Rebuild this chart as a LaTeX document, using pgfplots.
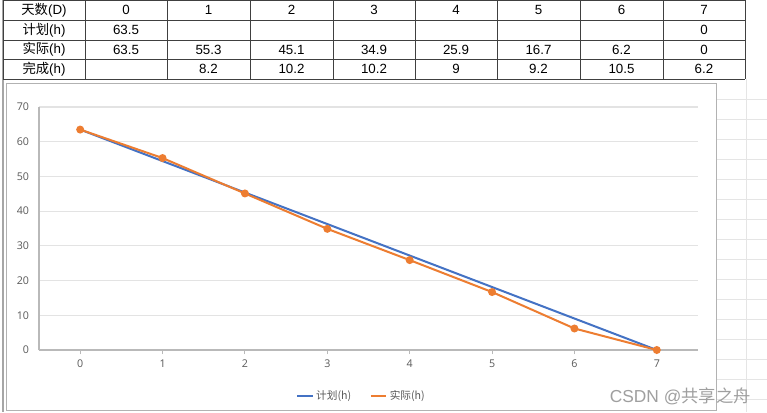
\documentclass[border=0pt]{standalone}
\usepackage{pgfplots}
\pgfplotsset{compat=1.18}
\usepackage{fontspec}
\setmainfont{Liberation Sans}
\newfontfamily\cjk{Noto Sans CJK SC}
\newfontfamily\uifont{Open Sans}
\definecolor{xlblue}{HTML}{4472C4}
\definecolor{xlorange}{HTML}{ED7D31}
\definecolor{tickgray}{HTML}{595959}
\begin{document}
\begin{tikzpicture}[x=0.75pt,y=-0.75pt]
\useasboundingbox (0,0) rectangle (767,412);
% spreadsheet background grid
\foreach \yy in {99,119,...,399} \draw[gray!20, line width=0.6pt] (716,\yy) -- (767,\yy);
\draw[gray!20, line width=0.6pt] (746,79) -- (746,412);
\draw[gray!70, line width=1pt] (3,0) -- (3,412);
% table
\foreach \yy in {0.7,20,40,59,79} \draw[black!75, line width=0.7pt] (3,\yy) -- (745,\yy);
\foreach \xx in {3,85,167,250,333,415,497,580,663,745} \draw[black!75, line width=0.7pt] (\xx,0) -- (\xx,79);
\begin{scope}[every node/.style={font=\fontsize{10}{11}\selectfont, inner sep=0pt}]
\node at (44,10) {{\cjk 天数}(D)};
\node at (44,30) {{\cjk 计划}(h)};
\node at (44,49.5) {{\cjk 实际}(h)};
\node at (44,69) {{\cjk 完成}(h)};
\foreach \c/\v in {126/0,208.5/1,291.5/2,374/3,456/4,538.5/5,621.5/6,704/7} \node at (\c,10) {\v};
\node at (126,30) {63.5};
\node at (704,30) {0};
\foreach \c/\v in {126/63.5,208.5/55.3,291.5/45.1,374/34.9,456/25.9,538.5/16.7,621.5/6.2,704/0} \node at (\c,49.5) {\v};
\foreach \c/\v in {208.5/8.2,291.5/10.2,374/10.2,456/9,538.5/9.2,621.5/10.5,704/6.2} \node at (\c,69) {\v};
\end{scope}
% chart frame
\draw[fill=white, draw=gray!60, line width=0.75pt] (6,83) rectangle (716,410);
\begin{axis}[
  scale only axis,
  width=494.25pt, height=182.25pt,
  at={(29.25pt,-262.5pt)}, anchor=south west,
  xmin=-0.5, xmax=7.5, ymin=0, ymax=70,
  xtick={0,...,7}, ytick={0,10,...,70},
  axis x line*=bottom, axis y line*=left,
  axis line style={draw=gray!55, line width=1pt, -},
  ymajorgrids, grid style={gray!22, line width=0.8pt},
  tick align=outside, xtick pos=bottom,
  major tick length=3pt,
  xtick style={draw=gray!55, line width=0.8pt},
  ytick style={draw=none},
  /pgf/number format/assume math mode=true,
  tick label style={font=\uifont\fontsize{8}{9}\selectfont, text=tickgray},
  yticklabel style={xshift=-1pt},
  xticklabel style={yshift=-1pt},
  legend style={at={(axis description cs:0.49,-0.189)}, anchor=center, draw=none,
    font=\cjk\fontsize{8}{9}\selectfont, text=tickgray,
    /tikz/every even column/.append style={column sep=12pt}},
  legend columns=2,
  legend image code/.code={\draw[#1] (0cm,0cm) -- (0.4cm,0cm);},
]
\addplot[xlblue, line width=1.5pt, no marks] coordinates {(0,63.5) (7,0)};
\addlegendentry{计划(h)}
\addplot[xlorange, line width=1.5pt, mark=*, mark size=2.2pt, mark options={fill=xlorange}] coordinates {
(0,63.5) (1,55.3) (2,45.1) (3,34.9) (4,25.9) (5,16.7) (6,6.2) (7,0)};
\addlegendentry{实际(h)}
\end{axis}
\node[anchor=east, text=gray!75, font=\fontsize{13}{14}\selectfont, inner sep=0pt] at (751,396) {CSDN @{\cjk 共享之舟}};
\end{tikzpicture}
\end{document}
